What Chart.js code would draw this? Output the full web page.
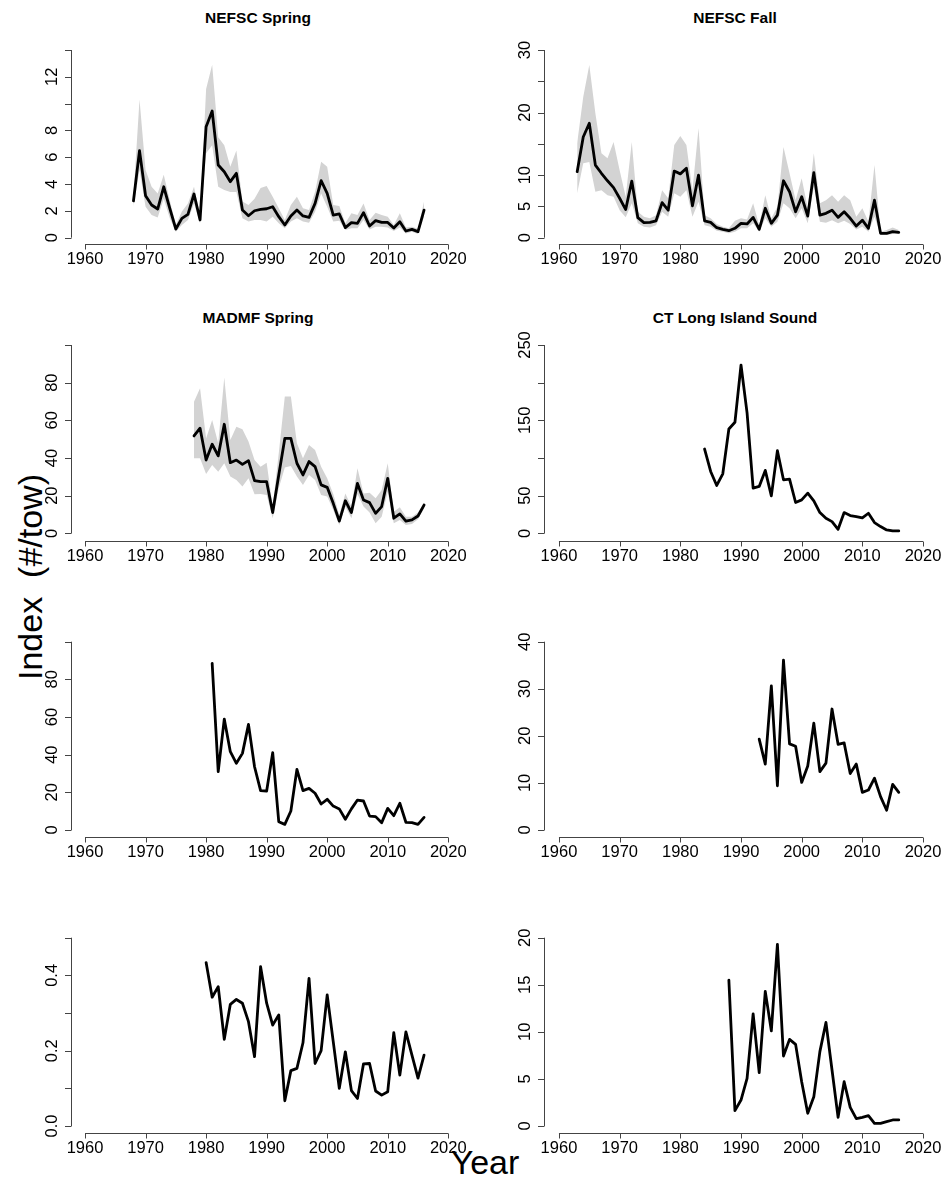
<!DOCTYPE html>
<html><head><meta charset="utf-8">
<script src="https://cdn.jsdelivr.net/npm/chart.js@4.4.0/dist/chart.umd.min.js"></script>
<style>
html,body{margin:0;padding:0;background:#fff;}
#wrap{position:relative;width:947px;height:1184px;overflow:hidden;background:#fff;}
#wrap canvas{position:absolute;left:0;top:0;}
.t{position:absolute;font-family:"Liberation Sans",Arial,Helvetica,sans-serif;color:#000;white-space:nowrap;line-height:1;transform:translate(-50%,-50%);}
.ttl{font-weight:bold;font-size:15.5px;}
.ax{font-size:34px;}
</style></head>
<body><div id="wrap">
<div class="t ttl" style="left:258px;top:18px">NEFSC Spring</div>
<div class="t ttl" style="left:735px;top:18px">NEFSC Fall</div>
<div class="t ttl" style="left:258px;top:318px">MADMF Spring</div>
<div class="t ttl" style="left:735px;top:318px">CT Long Island Sound</div>
<div class="t ax" style="left:30px;top:577px;transform:translate(-50%,-50%) rotate(-90deg)">Index&nbsp;&nbsp;(#/tow)</div>
<div class="t ax" style="left:485px;top:1162px">Year</div>
</div>
<script>
// ---------------- DATA ----------------
const yearTicks = [1960, 1970, 1980, 1990, 2000, 2010, 2020];

const nefscSpringStart = 1968;
const nefscSpringIndex = [2.74,6.49,3.13,2.44,2.14,3.8,2.19,0.65,1.44,1.74,3.26,1.32,8.28,9.45,5.42,4.92,4.18,4.8,2.06,1.64,2.01,2.11,2.16,2.31,1.57,0.95,1.62,2.06,1.62,1.52,2.56,4.25,3.31,1.69,1.77,0.75,1.12,1.07,1.87,0.87,1.27,1.14,1.14,0.72,1.19,0.5,0.62,0.45,2.06];
const nefscSpringUpper = [3.1,10.3,5.05,3.8,3.3,4.7,2.8,0.95,1.95,2.56,3.8,1.7,11.1,12.9,7.5,6.9,5.3,6.5,2.7,2.44,2.9,3.7,3.85,3.06,2.19,1.32,2.44,3.06,2.19,2.06,3.43,5.67,5.3,2.44,2.36,1.07,1.82,1.69,2.56,1.32,1.87,1.69,1.57,0.95,1.82,0.77,0.82,0.67,2.7];
const nefscSpringLower = [2.3,5.05,2.3,1.7,1.5,2.9,1.45,0.45,0.95,1.32,2.56,1.07,6.3,6.9,3.8,3.55,3.4,3.4,1.45,1.2,1.32,1.32,1.2,1.57,1.07,0.7,1.2,1.45,1.2,1.12,1.94,3.3,2.3,1.2,1.27,0.57,0.7,0.7,1.32,0.62,0.82,0.82,0.77,0.5,0.77,0.32,0.45,0.27,1.57];
const nefscSpringTicks = [0,2,4,6,8,10,12,14];
const nefscSpringLabels = ["0","2","4","6","8","","12",""];

const nefscFallStart = 1963;
const nefscFallIndex = [10.55,16.1,18.3,11.6,10.3,9.1,8.0,6.3,4.5,9.05,3.2,2.4,2.45,2.7,5.6,4.4,10.65,10.2,11.1,5.1,10.0,2.7,2.45,1.6,1.33,1.12,1.5,2.3,2.2,3.25,1.33,4.7,2.3,3.6,9.1,7.35,4.15,6.55,3.46,10.4,3.6,3.9,4.4,3.25,4.15,3.1,1.86,2.8,1.5,6.0,0.7,0.7,0.96,0.85];
const nefscFallUpper = [15.1,22.5,27.6,19.9,13.5,12.7,15.3,10.8,6.55,15.3,4.15,3.36,3.1,3.6,7.6,6.3,14.8,16.25,14.8,7.6,17.5,3.6,3.1,2.2,1.76,1.5,2.7,3.1,2.9,5.5,2.0,6.8,3.1,4.95,14.5,10.3,6.0,9.5,4.7,13.5,5.5,6.0,6.8,5.75,6.8,6.0,3.36,4.7,2.55,11.6,0.96,1.23,1.65,1.23];
const nefscFallLower = [7.1,11.9,12.1,7.35,7.6,6.8,6.55,4.4,3.25,5.5,2.3,1.76,1.65,2.0,4.15,3.36,7.1,6.55,7.6,3.36,5.75,2.0,1.76,1.12,0.96,0.7,0.96,1.5,1.5,2.3,0.96,3.1,1.76,2.55,5.5,4.7,3.1,4.7,2.3,8.15,2.55,2.4,2.8,2.3,2.7,2.2,1.33,1.76,0.96,3.36,0.43,0.43,0.6,0.6];
const nefscFallTicks = [0,5,10,15,20,25,30];
const nefscFallLabels = ["0","5","10","","20","","30"];

const madmfSpringStart = 1978;
const madmfSpringIndex = [51.7,55.8,38.9,47.3,41.1,57.9,37.5,38.9,36.6,38.6,28.0,27.4,27.4,11.0,31.0,50.4,50.4,37.2,31.0,38.1,35.4,25.7,24.4,15.9,6.5,17.3,11.0,26.5,17.7,16.3,10.6,14.2,29.2,8.0,10.3,6.5,7.1,9.2,15.0];
const madmfSpringUpper = [69.9,77,50.4,60.2,47.8,82.8,49.6,56.6,55.2,48.7,38.9,35.4,37.5,14.2,42.5,72.6,72.6,47.8,39.8,46.9,44.2,35.4,29.2,20.9,9.7,21.2,14.2,34.5,21.2,21.6,18.6,23.0,37.2,11.5,13.8,8.8,8.8,11.0,16.3];
const madmfSpringLower = [39.8,39.8,31.5,36.3,32.7,37.2,30.1,28.3,24.8,29.2,20.7,20.9,20.4,8.0,23.9,35.0,35.8,30.1,25.7,31.0,28.3,20.4,19.5,12.4,4.4,14.2,8.0,20.9,14.2,11.0,5.3,8.8,22.1,5.3,7.1,4.4,5.0,7.4,13.3];
const madmfSpringTicks = [0,20,40,60,80,100];
const madmfSpringLabels = ["0","20","40","60","80",""];

const ctLisStart = 1984;
const ctLisIndex = [111.9,82.1,63.5,79.0,138.5,147.4,223.4,159.9,59.9,62.2,83.5,49.7,109.7,71.0,71.9,40.9,44.4,53.3,43.1,27.5,20.0,15.5,5.3,27.5,23.5,22.2,20.4,26.6,14.2,8.9,4.4,3.1,3.1];
const ctLisTicks = [0,50,100,150,200,250];
const ctLisLabels = ["0","50","","150","","250"];

const row3LeftStart = 1981;
const row3LeftIndex = [88.5,31.0,58.9,41.6,35.4,40.7,56.1,33.6,20.9,20.7,41.1,4.4,3.0,10.1,32.2,20.9,22.1,19.5,13.8,16.3,12.7,11.2,5.7,11.2,15.9,15.4,7.4,7.1,3.9,11.5,7.6,14.2,4.1,3.9,3.0,6.7];
const row3LeftTicks = [0,20,40,60,80,100];
const row3LeftLabels = ["0","20","40","60","80",""];

const row3RightStart = 1993;
const row3RightIndex = [19.3,14.0,30.6,9.4,36.1,18.3,17.8,10.1,13.6,22.7,12.4,14.2,25.7,18.2,18.5,12.0,14.0,8.0,8.5,11.0,7.1,4.2,9.7,8.0];
const row3RightTicks = [0,10,20,30,40];
const row3RightLabels = ["0","10","20","30","40"];

const row4LeftStart = 1980;
const row4LeftIndex = [0.434,0.342,0.370,0.230,0.323,0.336,0.326,0.277,0.184,0.423,0.326,0.268,0.295,0.067,0.147,0.153,0.221,0.392,0.166,0.2,0.348,0.224,0.1,0.197,0.094,0.073,0.165,0.166,0.093,0.082,0.091,0.248,0.135,0.25,0.188,0.127,0.188];
const row4LeftTicks = [0,0.1,0.2,0.3,0.4,0.5];
const row4LeftLabels = ["0.0","","0.2","","0.4",""];

const row4RightStart = 1988;
const row4RightIndex = [15.5,1.63,2.76,5.06,11.9,5.66,14.3,10.1,19.3,7.43,9.2,8.67,4.7,1.35,3.1,7.9,11.0,5.95,0.92,4.7,1.98,0.78,0.92,1.1,0.28,0.28,0.46,0.64,0.64];
const row4RightTicks = [0,5,10,15,20];
const row4RightLabels = ["0","5","10","15","20"];

// ---------------- LAYOUT ----------------
const W = 947, H = 1184;
const XMIN = 1957.6, XMAX = 2022.4;
const cols = { L: { left: 70.5, right: 462.8 }, R: { left: 544.4, right: 937.6 } };
const rows = [
  { zero: 237.7, top: 50.0, axis: 244.3 },
  { zero: 533.3, top: 345.0, axis: 541.0 },
  { zero: 830.0, top: 641.7, axis: 837.3 },
  { zero: 1126.0, top: 937.7, axis: 1133.3 }
];

const panels = [
  { col: 'L', row: 0, start: nefscSpringStart, idx: nefscSpringIndex, up: nefscSpringUpper, lo: nefscSpringLower, ticks: nefscSpringTicks, labels: nefscSpringLabels },
  { col: 'R', row: 0, start: nefscFallStart, idx: nefscFallIndex, up: nefscFallUpper, lo: nefscFallLower, ticks: nefscFallTicks, labels: nefscFallLabels },
  { col: 'L', row: 1, start: madmfSpringStart, idx: madmfSpringIndex, up: madmfSpringUpper, lo: madmfSpringLower, ticks: madmfSpringTicks, labels: madmfSpringLabels },
  { col: 'R', row: 1, start: ctLisStart, idx: ctLisIndex, ticks: ctLisTicks, labels: ctLisLabels },
  { col: 'L', row: 2, start: row3LeftStart, idx: row3LeftIndex, ticks: row3LeftTicks, labels: row3LeftLabels },
  { col: 'R', row: 2, start: row3RightStart, idx: row3RightIndex, ticks: row3RightTicks, labels: row3RightLabels },
  { col: 'L', row: 3, start: row4LeftStart, idx: row4LeftIndex, ticks: row4LeftTicks, labels: row4LeftLabels },
  { col: 'R', row: 3, start: row4RightStart, idx: row4RightIndex, ticks: row4RightTicks, labels: row4RightLabels }
];

const FONT = '16.5px "Liberation Sans", Arial, Helvetica, sans-serif';
const AXIS_COLOR = '#444';

const rAxes = {
  id: 'rAxes',
  afterDraw(chart, args, opts) {
    const ctx = chart.ctx, xs = chart.scales.x, ys = chart.scales.y, ca = chart.chartArea;
    ctx.save();
    ctx.strokeStyle = AXIS_COLOR; ctx.lineWidth = 1; ctx.fillStyle = '#000'; ctx.font = FONT;
    // x axis
    const yb = Math.round(ca.bottom) + 0.5;
    const x0 = xs.getPixelForValue(yearTicks[0]), x1 = xs.getPixelForValue(yearTicks[yearTicks.length - 1]);
    ctx.beginPath(); ctx.moveTo(x0, yb); ctx.lineTo(x1, yb);
    yearTicks.forEach(v => { const px = Math.round(xs.getPixelForValue(v)) + 0.5; ctx.moveTo(px, yb); ctx.lineTo(px, yb + 5); });
    ctx.stroke();
    ctx.textAlign = 'center'; ctx.textBaseline = 'middle';
    yearTicks.forEach(v => ctx.fillText(String(v), xs.getPixelForValue(v), yb + 14.5));
    // y axis
    const xl = Math.round(ca.left) + 0.5;
    const t = opts.ticks, lab = opts.labels;
    ctx.beginPath(); ctx.moveTo(xl, ys.getPixelForValue(t[0])); ctx.lineTo(xl, ys.getPixelForValue(t[t.length - 1]));
    t.forEach(v => { const py = Math.round(ys.getPixelForValue(v)) + 0.5; ctx.moveTo(xl, py); ctx.lineTo(xl - 6.5, py); });
    ctx.stroke();
    t.forEach((v, i) => {
      if (!lab[i]) return;
      ctx.save(); ctx.translate(xl - 19.5, ys.getPixelForValue(v)); ctx.rotate(-Math.PI / 2);
      ctx.fillText(lab[i], 0, 0); ctx.restore();
    });
    ctx.restore();
  }
};

const wrap = document.getElementById('wrap');
panels.forEach(p => {
  const c = cols[p.col], r = rows[p.row];
  const top = p.ticks[p.ticks.length - 1];
  const perUnit = (r.zero - r.top) / top;
  const areaTop = r.top - 7;
  const ymin = -(r.axis - r.zero) / perUnit;
  const ymax = top + (r.top - areaTop) / perUnit;
  const pts = arr => arr.map((v, i) => ({ x: p.start + i, y: v }));
  const datasets = [{ data: pts(p.idx), borderColor: '#000', borderWidth: 2.8, pointRadius: 0, tension: 0, fill: false, borderJoinStyle: 'round', borderCapStyle: 'round' }];
  if (p.up) {
    datasets.push({ data: pts(p.up), borderWidth: 0, borderColor: 'rgba(0,0,0,0)', backgroundColor: '#d3d3d3', pointRadius: 0, tension: 0, fill: '+1' });
    datasets.push({ data: pts(p.lo), borderWidth: 0, borderColor: 'rgba(0,0,0,0)', pointRadius: 0, tension: 0, fill: false });
  }
  const cv = document.createElement('canvas');
  cv.width = W; cv.height = H;
  wrap.appendChild(cv);
  new Chart(cv, {
    type: 'line',
    data: { datasets },
    options: {
      responsive: false, animation: false, devicePixelRatio: 1,
      layout: { padding: { left: c.left, right: W - c.right, top: areaTop, bottom: H - r.axis } },
      scales: {
        x: { type: 'linear', min: XMIN, max: XMAX, display: false },
        y: { type: 'linear', min: ymin, max: ymax, display: false }
      },
      plugins: { legend: { display: false }, tooltip: { enabled: false }, rAxes: { ticks: p.ticks, labels: p.labels } },
      elements: { line: { borderJoinStyle: 'round' } }
    },
    plugins: [rAxes]
  });
});
</script>
</body></html>
